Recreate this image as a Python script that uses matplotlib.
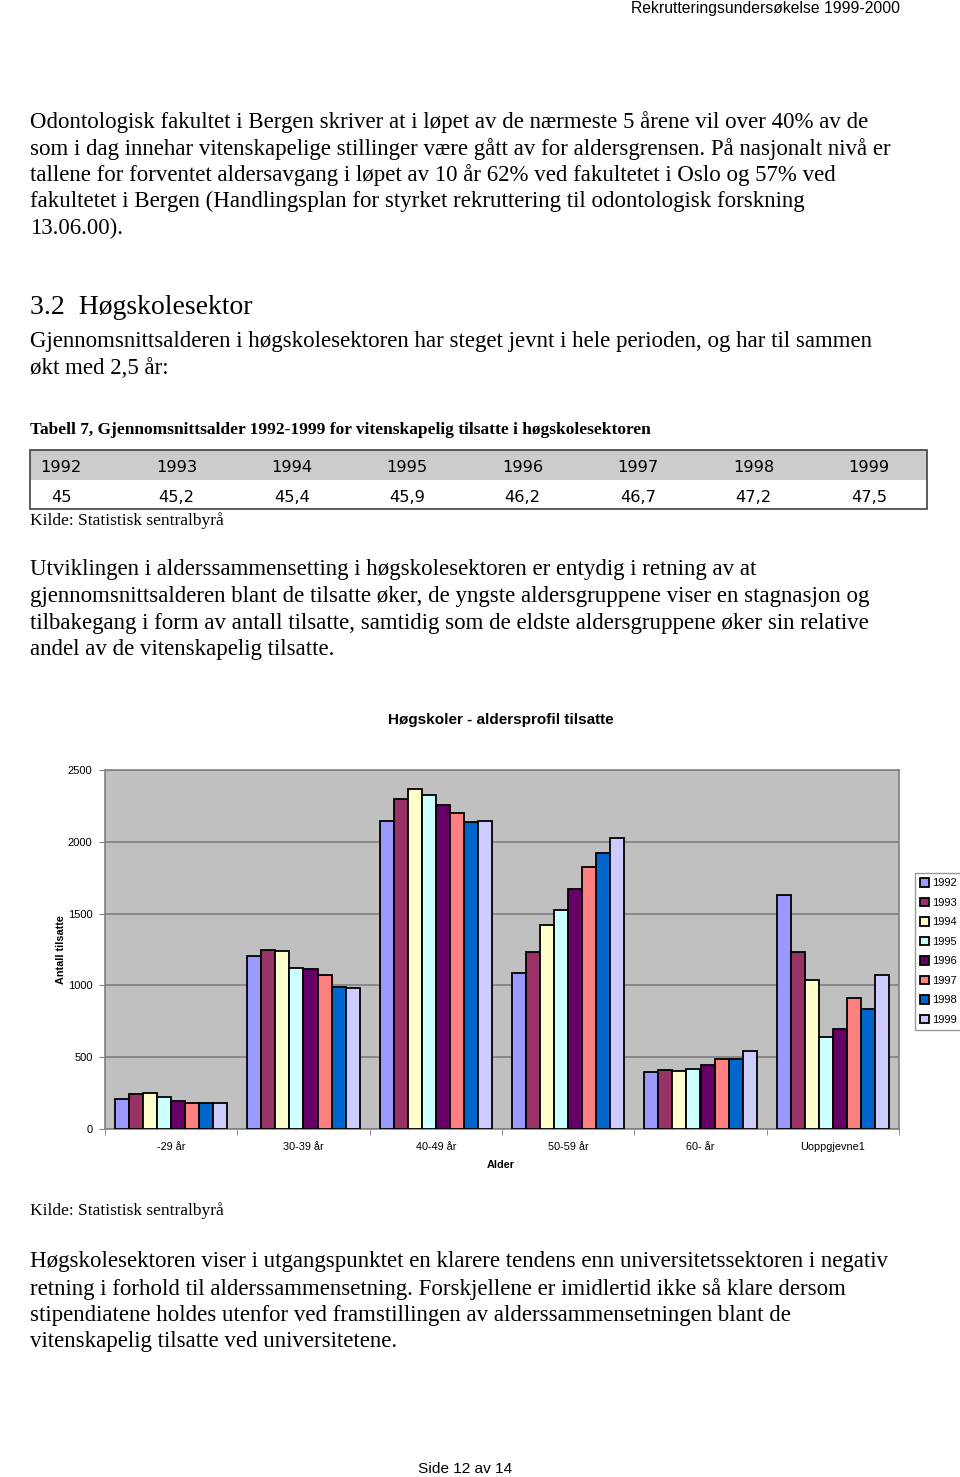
import matplotlib
matplotlib.use("Agg")
import matplotlib.pyplot as plt
import numpy as np
from matplotlib.patches import Rectangle

# ---------------- data ----------------
table_years = ["1992", "1993", "1994", "1995", "1996", "1997", "1998", "1999"]
table_ages = ["45", "45,2", "45,4", "45,9", "46,2", "46,7", "47,2", "47,5"]

age_groups = ["-29 år", "30-39 år", "40-49 år", "50-59 år", "60- år", "Uoppgjevne1"]
series_years = ["1992", "1993", "1994", "1995", "1996", "1997", "1998", "1999"]
v1992 = [209, 1208, 2145, 1085, 397, 1628]
v1993 = [241, 1248, 2298, 1236, 410, 1231]
v1994 = [248, 1243, 2365, 1424, 401, 1039]
v1995 = [220, 1120, 2326, 1526, 420, 638]
v1996 = [195, 1111, 2259, 1672, 445, 693]
v1997 = [179, 1071, 2203, 1825, 487, 914]
v1998 = [183, 990, 2140, 1922, 489, 837]
v1999 = [179, 981, 2147, 2024, 543, 1069]
series_values = [v1992, v1993, v1994, v1995, v1996, v1997, v1998, v1999]
series_colors = ["#9999FF", "#993366", "#FFFFCC", "#CCFFFF",
                 "#660066", "#FF8080", "#0066CC", "#CCCCFF"]
y_ticks = [0, 500, 1000, 1500, 2000, 2500]

# ---------------- page ----------------
W, H = 960, 1477
fig = plt.figure(figsize=(W / 100, H / 100), dpi=100)
fig.patch.set_facecolor("white")

SERIF = ["Liberation Serif", "DejaVu Serif"]
NARROW = ["Liberation Sans Narrow", "Liberation Sans", "DejaVu Sans"]
SANS = ["Liberation Sans", "DejaVu Sans"]
BODY = 16.5


def ft(x, y, s, **kw):
    fig.text(x / W, 1 - y / H, s, **kw)


ft(900, 9, "Rekrutteringsundersøkelse 1999-2000", family=NARROW, fontsize=11.3,
   ha="right", va="center")

para1 = [
    "Odontologisk fakultet i Bergen skriver at i løpet av de nærmeste 5 årene vil over 40% av de",
    "som i dag innehar vitenskapelige stillinger være gått av for aldersgrensen. På nasjonalt nivå er",
    "tallene for forventet aldersavgang i løpet av 10 år 62% ved fakultetet i Oslo og 57% ved",
    "fakultetet i Bergen (Handlingsplan for styrket rekruttering til odontologisk forskning",
    "13.06.00).",
]
for i, line in enumerate(para1):
    ft(30, 122 + i * 26.6, line, family=SERIF, fontsize=BODY, va="center")

ft(30, 307, "3.2  Høgskolesektor", family=SERIF, fontsize=20, va="center")

para2 = [
    "Gjennomsnittsalderen i høgskolesektoren har steget jevnt i hele perioden, og har til sammen",
    "økt med 2,5 år:",
]
for i, line in enumerate(para2):
    ft(30, 342 + i * 26.6, line, family=SERIF, fontsize=BODY, va="center")

ft(30, 430, "Tabell 7, Gjennomsnittsalder 1992-1999 for vitenskapelig tilsatte i høgskolesektoren",
   family=SERIF, fontsize=12.55, fontweight="bold", va="center")

# table
tx0, tx1, ty0, tymid, ty1 = 30, 927, 450, 480, 509
fig.patches.append(Rectangle((tx0 / W, 1 - tymid / H), (tx1 - tx0) / W, (tymid - ty0) / H,
                             transform=fig.transFigure, facecolor="#CCCCCC", edgecolor="none"))
fig.patches.append(Rectangle((tx0 / W, 1 - ty1 / H), (tx1 - tx0) / W, (ty1 - ty0) / H,
                             transform=fig.transFigure, facecolor="none", edgecolor="#404040",
                             linewidth=1.2))
col_centers = [61 + i * 115.4 for i in range(8)]
for cx, yr, ag in zip(col_centers, table_years, table_ages):
    ft(cx, 467, yr, family="DejaVu Sans", fontsize=11.7, ha="center", va="center")
    ft(cx, 497, ag, family="DejaVu Sans", fontsize=11.7, ha="center", va="center")

ft(30, 521, "Kilde: Statistisk sentralbyrå", family=SERIF, fontsize=12.5, va="center")

para3 = [
    "Utviklingen i alderssammensetting i høgskolesektoren er entydig i retning av at",
    "gjennomsnittsalderen blant de tilsatte øker, de yngste aldersgruppene viser en stagnasjon og",
    "tilbakegang i form av antall tilsatte, samtidig som de eldste aldersgruppene øker sin relative",
    "andel av de vitenskapelig tilsatte.",
]
for i, line in enumerate(para3):
    ft(30, 570 + i * 26.6, line, family=SERIF, fontsize=BODY, va="center")

# ---------------- chart ----------------
ft(501, 720, "Høgskoler - aldersprofil tilsatte", family=SANS, fontsize=11,
   fontweight="bold", ha="center", va="center")

ax = fig.add_axes([105 / W, 1 - 1129 / H, 794 / W, 359 / H])
ax.set_facecolor("#C0C0C0")
x = np.arange(len(age_groups))
n = len(series_values)
bw = 0.85 / n
for i, (vals, col, yr) in enumerate(zip(series_values, series_colors, series_years)):
    ax.bar(x - 0.425 + bw * (i + 0.5), vals, width=bw, color=col, edgecolor="black",
           linewidth=1.3, label=yr, zorder=3)

ax.set_xlim(-0.5, len(age_groups) - 0.5)
ax.set_ylim(0, 2500)
ax.set_yticks(y_ticks)
ax.set_yticklabels([str(t) for t in y_ticks], family=SANS, fontsize=8)
ax.yaxis.grid(True, color="#808080", linewidth=1.2, zorder=0)
ax.set_xticks(x)
ax.set_xticklabels(age_groups, family=SANS, fontsize=7.8)
ax.set_xticks(np.arange(-0.5, len(age_groups)), minor=True)
ax.tick_params(axis="x", which="major", length=0, pad=9)
ax.tick_params(axis="x", which="minor", length=4, color="#808080")
ax.tick_params(axis="y", length=4, color="#808080", pad=5)
for side in ["top", "right", "left", "bottom"]:
    ax.spines[side].set_color("#808080")
    ax.spines[side].set_linewidth(1.2)

ft(501, 1165, "Alder", family=SANS, fontsize=7.8, fontweight="bold", ha="center", va="center")
ft(61, 950, "Antall tilsatte", family=SANS, fontsize=7.8, fontweight="bold", ha="center",
   va="center", rotation=90)

leg = ax.legend(loc="upper left", bbox_to_anchor=(915 / W, 1 - 873 / H),
                bbox_transform=fig.transFigure, prop={"family": SANS, "size": 8},
                frameon=True, fancybox=False, handlelength=0.8, handleheight=0.8,
                handletextpad=0.3, labelspacing=0.85, borderpad=0.45, borderaxespad=0)
leg.get_frame().set_edgecolor("#808080")
leg.get_frame().set_linewidth(1.0)

ft(30, 1211, "Kilde: Statistisk sentralbyrå", family=SERIF, fontsize=12.5, va="center")

para4 = [
    "Høgskolesektoren viser i utgangspunktet en klarere tendens enn universitetssektoren i negativ",
    "retning i forhold til alderssammensetning. Forskjellene er imidlertid ikke så klare dersom",
    "stipendiatene holdes utenfor ved framstillingen av alderssammensetningen blant de",
    "vitenskapelig tilsatte ved universitetene.",
]
for i, line in enumerate(para4):
    ft(30, 1262 + i * 26.6, line, family=SERIF, fontsize=BODY, va="center")

ft(465, 1469, "Side 12 av 14", family=NARROW, fontsize=11.1, ha="center", va="center")

fig.savefig("out.png", dpi=100, facecolor="white")
